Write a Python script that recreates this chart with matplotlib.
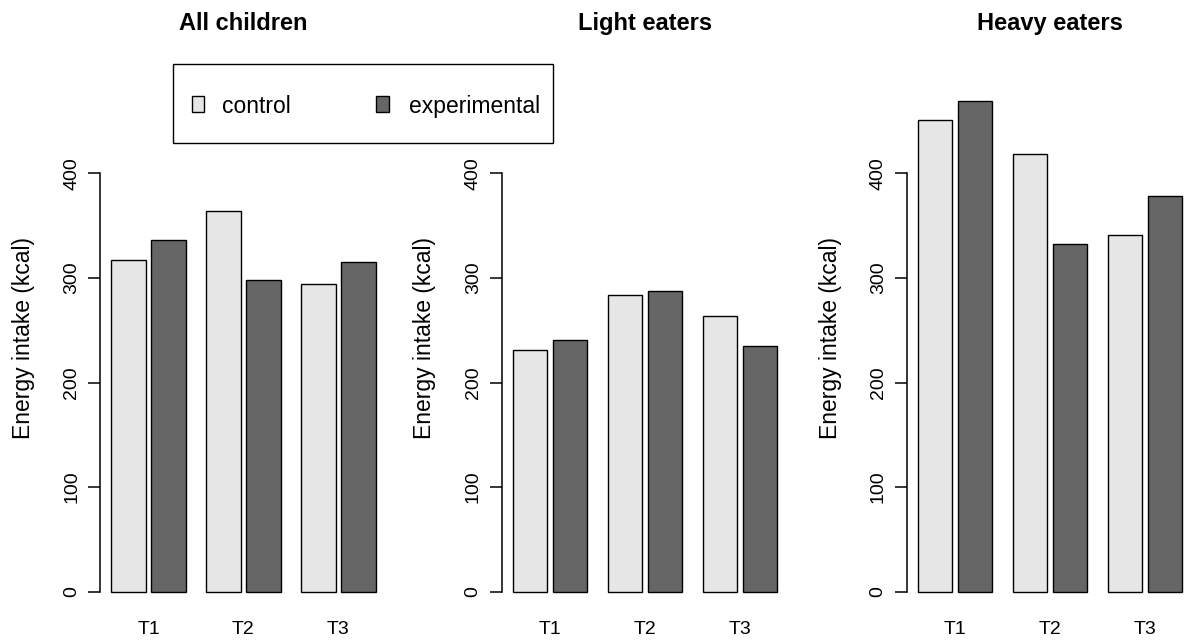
import matplotlib
matplotlib.use("Agg")
import matplotlib.pyplot as plt
from matplotlib.patches import Rectangle

plt.rcParams['font.family'] = ['Liberation Sans', 'DejaVu Sans']

timepoints = ["T1", "T2", "T3"]
groups = ["control", "experimental"]
panel_titles = ["All children", "Light eaters", "Heavy eaters"]
all_control = [317, 364, 294]
all_experimental = [336, 298, 315]
light_control = [231, 284, 264]
light_experimental = [241, 287, 235]
heavy_control = [451, 418, 341]
heavy_experimental = [469, 332, 378]
y_ticks = [0, 100, 200, 300, 400]

panels = [(all_control, all_experimental),
          (light_control, light_experimental),
          (heavy_control, heavy_experimental)]

C_CTRL = "#E6E6E6"
C_EXP = "#666666"

W, H = 1189, 644
fig = plt.figure(figsize=(W / 100, H / 100), dpi=100)

pitch = 2.746
gap_in = 0.165
bar_w = 1.0
ext = 0.306
xlim = (-ext, 2 * pitch + 2 * bar_w + gap_in + ext)
axes_w_px = 286
bottom_px, top_px = 610, 70
ylim = (-(bottom_px - 591.7) / 1.046, (591.7 - top_px) / 1.046)
axis_x_px = [100.5, 502, 907]

for i, ((ctrl, expv), title) in enumerate(zip(panels, panel_titles)):
    left = axis_x_px[i]
    ax = fig.add_axes([left / W, (H - bottom_px) / H, axes_w_px / W, (bottom_px - top_px) / H])
    ctrl_x = [g * pitch for g in range(len(timepoints))]
    exp_x = [g * pitch + bar_w + gap_in for g in range(len(timepoints))]
    ax.bar(ctrl_x, ctrl, width=bar_w, align='edge', color=C_CTRL, edgecolor='black', linewidth=1.0)
    ax.bar(exp_x, expv, width=bar_w, align='edge', color=C_EXP, edgecolor='black', linewidth=1.0)
    ax.set_xlim(*xlim)
    ax.set_ylim(*ylim)
    for s in ['top', 'right', 'bottom']:
        ax.spines[s].set_visible(False)
    ax.spines['left'].set_bounds(0, 400)
    ax.spines['left'].set_linewidth(1.1)
    ax.set_yticks(y_ticks)
    ax.set_yticklabels([str(v) for v in y_ticks], fontsize=14)
    ax.tick_params(axis='y', length=8.6, width=1.1, pad=6)
    for lab in ax.get_yticklabels():
        lab.set_rotation(90)
        lab.set_va('center')
    centers = [g * pitch + bar_w + gap_in / 2 for g in range(len(timepoints))]
    ax.set_xticks(centers)
    ax.set_xticklabels(timepoints, fontsize=14)
    ax.tick_params(axis='x', length=0, pad=8)
    ax.set_ylabel("Energy intake (kcal)", fontsize=16.5)
    ax.yaxis.set_label_coords((35 - 100.5) / axes_w_px, (bottom_px - 337.7) / (bottom_px - top_px))
    ax.patch.set_visible(False)
    fig.text((left + axes_w_px / 2) / W, 1 - 30 / H, title, ha='center', va='baseline',
             fontsize=17, fontweight='bold')

# legend (figure-level, R style horizontal legend)
def px(x, y):
    return x / W, 1 - y / H

x0, y0 = px(173.3, 142.7)
fig.patches.append(Rectangle((x0, y0), (552.7 - 173.3) / W, (142.7 - 64.5) / H,
                             transform=fig.transFigure, fill=False, edgecolor='black',
                             linewidth=1.0))
for (sx, tx, col, lab) in [(191.7, 221.7, C_CTRL, groups[0]), (376.0, 409.3, C_EXP, groups[1])]:
    rx, ry = px(sx, 112.3)
    fig.patches.append(Rectangle((rx, ry), 12.6 / W, 16.6 / H, transform=fig.transFigure,
                                 facecolor=col, edgecolor='black', linewidth=1.0))
    tx_, ty_ = px(tx, 104)
    fig.text(tx_, ty_, lab, ha='left', va='center_baseline', fontsize=16.5)

fig.savefig("out.png", dpi=100)
